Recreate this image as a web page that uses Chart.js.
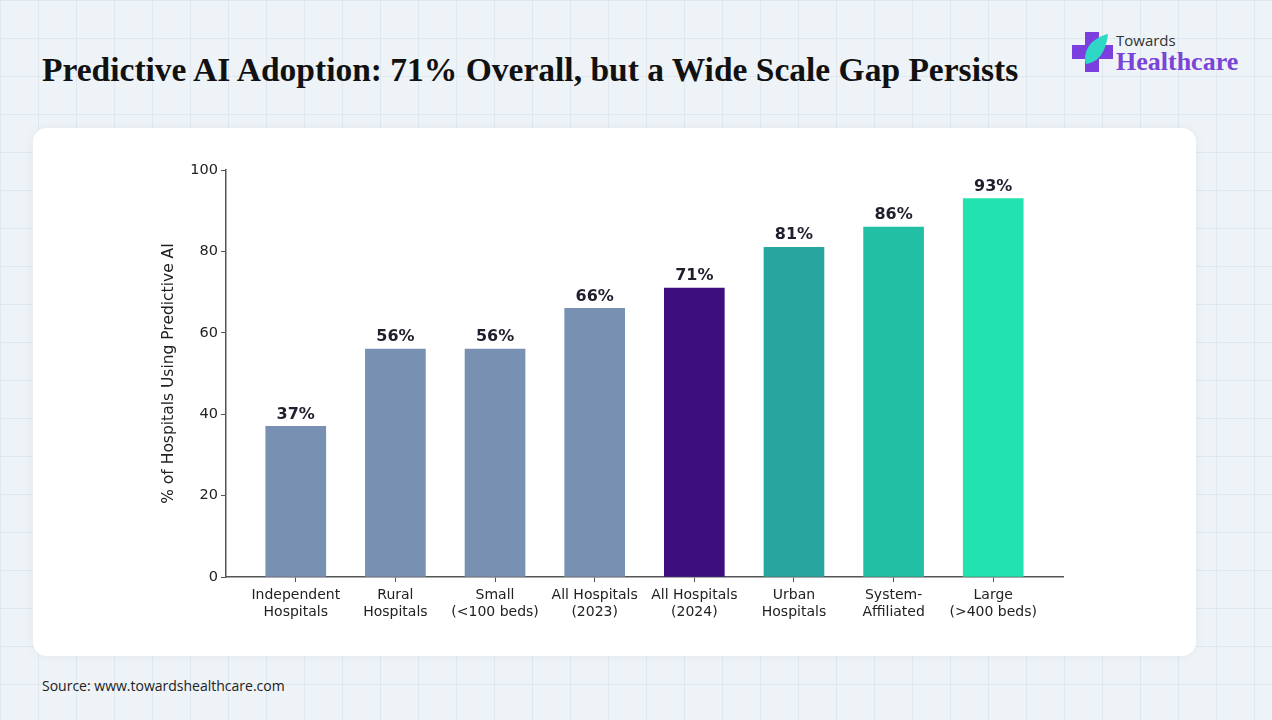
<!DOCTYPE html>
<html><head><meta charset="utf-8">
<script src="https://cdn.jsdelivr.net/npm/chart.js@4"></script>
<style>
body{margin:0;width:1272px;height:720px;overflow:hidden;font-family:"DejaVu Sans";
 background-color:#eef3f7;
 background-image:linear-gradient(rgba(200,212,224,.35) 1px,transparent 1px),linear-gradient(90deg,rgba(200,212,224,.35) 1px,transparent 1px);
 background-size:38px 38px;position:relative}
#title{position:absolute;left:42px;top:51px;font:bold 33.5px "Liberation Serif",serif;color:#111}
#card{position:absolute;left:33px;top:128px;width:1163px;height:528px;background:#fff;border-radius:14px;box-shadow:0 0 12px rgba(0,0,0,.05)}
#src{position:absolute;left:42px;top:676px;font:14px "Open Sans",sans-serif;color:#222}
#logo{position:absolute;left:1072px;top:30px}
#logo .t{position:absolute;left:44px;top:0;font:15px "Open Sans";color:#333}
#logo .h{position:absolute;left:44px;top:17px;font:bold 26px "Liberation Serif";color:#7a45d6;white-space:nowrap}
canvas{position:absolute;left:0;top:0}
</style></head><body>
<div id="card"></div>
<div id="title">Predictive AI Adoption: 71% Overall, but a Wide Scale Gap Persists</div>
<div id="logo"><svg width="42" height="44"><path d="M13 2h14v13h14v14H27v13H13V29H0V15h13z" fill="#7b3fe0"/><path d="M14 34c-4-14 6-26 22-30-2 16-8 28-22 30z" fill="#2fd8c4"/></svg><span class="t">Towards</span><span class="h">Healthcare</span></div>
<div id="src">Source: www.towardshealthcare.com</div>
<canvas id="c" width="1272" height="720"></canvas>
<script>
const categories = [["Independent","Hospitals"],["Rural","Hospitals"],["Small","(<100 beds)"],["All Hospitals","(2023)"],["All Hospitals","(2024)"],["Urban","Hospitals"],["System-","Affiliated"],["Large","(>400 beds)"]];
const values = [37,56,56,66,71,81,86,93];
const colors = ["#7891b3","#7891b3","#7891b3","#7891b3","#3d0e7d","#26a69e","#22bfa5","#22e3b0"];

const labelPlugin = {
  id: 'labels',
  afterDatasetsDraw(chart) {
    const ctx = chart.ctx;
    ctx.save();
    ctx.font = 'bold 16px "DejaVu Sans"';
    ctx.fillStyle = '#1f1f2e';
    ctx.textAlign = 'center';
    ctx.textBaseline = 'bottom';
    chart.getDatasetMeta(0).data.forEach((bar, i) => {
      ctx.fillText(values[i] + '%', bar.x, bar.y - 4);
    });
    ctx.restore();
  }
};

new Chart(document.getElementById('c'), {
  type: 'bar',
  data: {
    datasets: [{
      data: values.map((v, i) => ({x: i, y: v})),
      backgroundColor: colors,
      barThickness: 60
    }]
  },
  options: {
    responsive: false,
    animation: false,
    layout: {padding: {left: 156, right: 209, top: 170, bottom: 93}},
    plugins: {legend: {display: false}, tooltip: {enabled: false}},
    scales: {
      x: {
        type: 'linear', min: -0.7, max: 7.7, offset: false,
        afterFit: s => { s.height = 50; },
        afterBuildTicks: s => { s.ticks = categories.map((c, i) => ({value: i})); },
        grid: {offset: false, drawOnChartArea: false, drawTicks: true, tickLength: 5, color: '#555'},
        border: {color: '#555', width: 1.5},
        ticks: {color: '#222', font: {family: 'DejaVu Sans', size: 14}, autoSkip: false, maxRotation: 0, padding: 5,
          callback: v => categories[v]}
      },
      y: {
        min: 0, max: 100,
        afterFit: s => { s.width = 70; },
        grid: {drawOnChartArea: false, drawTicks: true, tickLength: 5, color: '#555'},
        border: {color: '#555', width: 1.5},
        ticks: {stepSize: 20, color: '#222', font: {family: 'DejaVu Sans', size: 14.5}},
        title: {display: true, text: '% of Hospitals Using Predictive AI', color: '#222', font: {family: 'DejaVu Sans', size: 15.5}}
      }
    }
  },
  plugins: [labelPlugin]
});
</script>
</body></html>
